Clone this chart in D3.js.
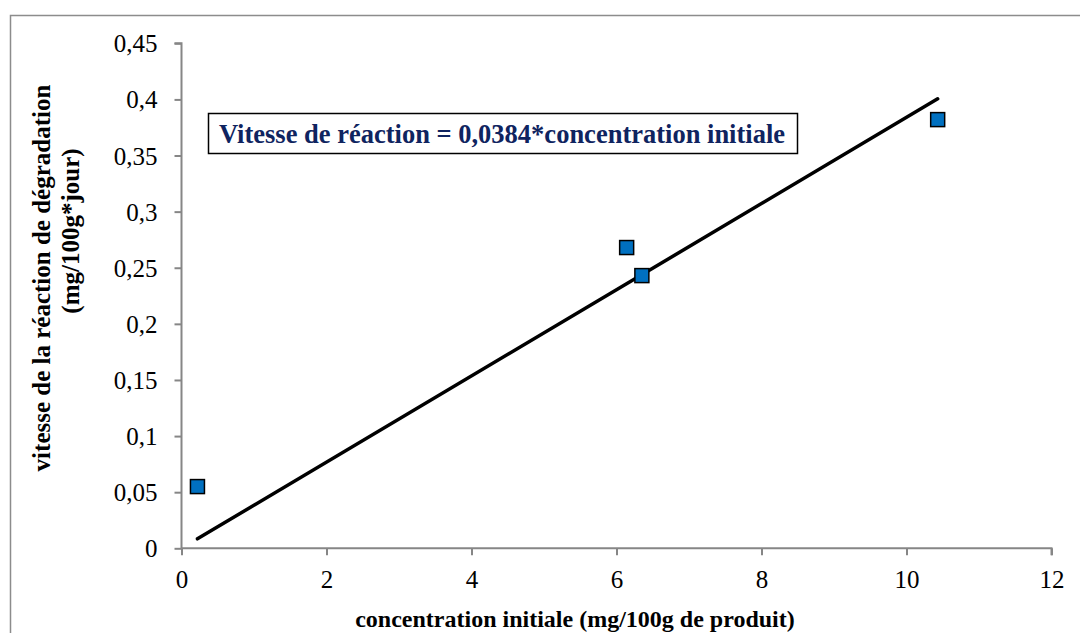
<!DOCTYPE html>
<html><head><meta charset="utf-8">
<script src="https://cdn.jsdelivr.net/npm/d3@7"></script>
<style>body{margin:0;background:#fff}</style>
</head><body>
<svg id="c" width="1080" height="633"></svg>
<script>
const concentration = [0.22, 6.14, 6.35, 10.43];
const vitesse = [0.055, 0.268, 0.243, 0.382];
const slope = 0.0384;
const trendRange = [0.22, 10.43];
const xTicks = [0, 2, 4, 6, 8, 10, 12];
const yTicks = [0, 0.05, 0.1, 0.15, 0.2, 0.25, 0.3, 0.35, 0.4, 0.45];
const yTitle = ["vitesse de la réaction de dégradation", "(mg/100g*jour)"];
const xTitle = "concentration initiale (mg/100g de produit)";
const equation = "Vitesse de réaction = 0,0384*concentration initiale";

const svg = d3.select("#c");
const font = "'Liberation Serif','Times New Roman',serif";
const axisCol = "#868686";

svg.append("rect").attr("x",10.5).attr("y",15.5).attr("width",1100).attr("height",700)
  .attr("fill","none").attr("stroke","#8c8c8c").attr("stroke-width",1.5);

const x = d3.scaleLinear().domain([0,12]).range([181.5,1051.5]);
const y = d3.scaleLinear().domain([0,0.45]).range([548.3,43.3]);
const fmt = d => String(d).replace(".", ",");

// y axis
const ya = svg.append("g").attr("transform",`translate(${x(0)},0)`)
  .call(d3.axisLeft(y).tickValues(yTicks).tickFormat(fmt).tickSize(7).tickPadding(17));
ya.select(".domain").attr("stroke",axisCol).attr("stroke-width",2).attr("d",`M-7,${y(0.45)}H0V${y(0)}`);
ya.selectAll(".tick line").attr("stroke",axisCol).attr("stroke-width",2);
ya.selectAll(".tick text").attr("font-family",font).attr("font-size",25).attr("fill","#000").attr("dy","0.34em");

// x axis
const xa = svg.append("g").attr("transform",`translate(0,${y(0)})`)
  .call(d3.axisBottom(x).tickValues(xTicks).tickFormat(fmt).tickSize(7).tickPadding(15));
xa.select(".domain").attr("stroke",axisCol).attr("stroke-width",2).attr("d",`M${x(0)},0H${x(12)}V7`);
xa.selectAll(".tick line").attr("stroke",axisCol).attr("stroke-width",2);
xa.selectAll(".tick text").attr("font-family",font).attr("font-size",25).attr("fill","#000");

// trendline
svg.append("line")
  .attr("x1",x(trendRange[0])).attr("y1",y(slope*trendRange[0]))
  .attr("x2",x(trendRange[1])).attr("y2",y(slope*trendRange[1]))
  .attr("stroke","#000").attr("stroke-width",3.5).attr("stroke-linecap","round");

// points
const s = 14;
svg.selectAll("rect.pt").data(concentration).enter().append("rect").attr("class","pt")
  .attr("x",(d)=>x(d)-s/2).attr("y",(d,i)=>y(vitesse[i])-s/2)
  .attr("width",s).attr("height",s)
  .attr("fill","#0070C0").attr("stroke","#000").attr("stroke-width",1.5);

// equation box
svg.append("rect").attr("x",208.5).attr("y",113.5).attr("width",589).attr("height",40)
  .attr("fill","#fff").attr("stroke","#000").attr("stroke-width",1.5);
svg.append("text").attr("x",502).attr("y",143).attr("text-anchor","middle")
  .attr("font-family",font).attr("font-weight","bold").attr("font-size",26.5).attr("fill","#0F2460")
  .text(equation);

// axis titles
svg.append("text").attr("x",575).attr("y",627).attr("text-anchor","middle")
  .attr("font-family",font).attr("font-weight","bold").attr("font-size",24).attr("fill","#000")
  .text(xTitle);
svg.append("text").attr("transform","translate(50,278) rotate(-90)").attr("text-anchor","middle")
  .attr("font-family",font).attr("font-weight","bold").attr("font-size",25).attr("fill","#000")
  .text(yTitle[0]);
svg.append("text").attr("transform","translate(79,231) rotate(-90)").attr("text-anchor","middle")
  .attr("font-family",font).attr("font-weight","bold").attr("font-size",25).attr("fill","#000")
  .text(yTitle[1]);
</script>
</body></html>
